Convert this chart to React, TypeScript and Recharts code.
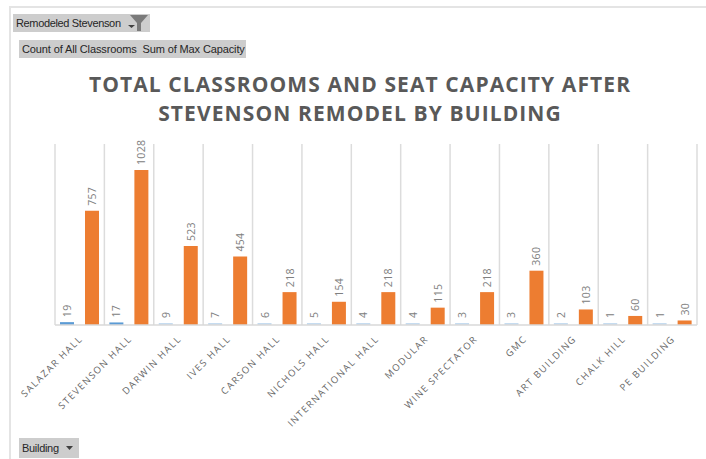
import React from 'react';
import { BarChart, Bar, XAxis, YAxis, CartesianGrid, LabelList, Cell } from 'recharts';

const buildings = ['SALAZAR HALL', 'STEVENSON HALL', 'DARWIN HALL', 'IVES HALL', 'CARSON HALL', 'NICHOLS HALL', 'INTERNATIONAL HALL', 'MODULAR', 'WINE SPECTATOR', 'GMC', 'ART BUILDING', 'CHALK HILL', 'PE BUILDING'];
const classrooms = [19, 17, 9, 7, 6, 5, 4, 4, 3, 3, 2, 1, 1];
const capacity = [757, 1028, 523, 454, 218, 154, 218, 115, 218, 360, 103, 60, 30];

const chartData = buildings.map((building, i) => ({
  building,
  classrooms: classrooms[i],
  capacity: capacity[i],
}));

const FONT = '"Open Sans", "Liberation Sans", sans-serif';
const BUTTON_FONT = '"Liberation Sans", sans-serif';

const ValueLabel = ({ x, y, width, value }: any) => {
  const cx = x + width / 2;
  const top = y - 5;
  return (
    <text
      x={cx}
      y={top}
      transform={`rotate(-90 ${cx} ${top})`}
      textAnchor="start"
      dominantBaseline="central"
      fontSize={10.5}
      letterSpacing={0.3}
      fill="#808080"
      fontFamily={FONT}
    >
      {value}
    </text>
  );
};

const BuildingTick = ({ x, y, payload }: any) => (
  <text
    x={x + 1}
    y={y + 4}
    transform={`rotate(-45 ${x + 1} ${y + 4})`}
    textAnchor="end"
    dominantBaseline="central"
    fontSize={9.5}
    letterSpacing={1.45}
    fill="#666666"
    fontFamily={FONT}
  >
    {payload.value}
  </text>
);

const PivotButton = ({ left, top, width, height, spacing = 0, children }: any) => (
  <div
    style={{
      position: 'absolute',
      left,
      top,
      width,
      height,
      lineHeight: `${height}px`,
      background: '#cdcdcd',
      fontFamily: BUTTON_FONT,
      fontSize: 11,
      letterSpacing: spacing,
      color: '#262626',
      whiteSpace: 'nowrap',
      overflow: 'hidden',
      paddingLeft: 3,
      boxSizing: 'border-box',
    }}
  >
    {children}
  </div>
);

export default function App() {
  return (
    <div style={{ position: 'absolute', left: 0, top: 0, width: 706, height: 459, background: '#fff', overflow: 'hidden' }}>
      <div style={{ position: 'absolute', left: 9, top: 6, width: 697, height: 453, borderLeft: '2px solid #e4e4e4', borderTop: '2px solid #e4e4e4', boxSizing: 'border-box' }} />

      <BarChart
        width={706}
        height={459}
        data={chartData}
        margin={{ top: 144, right: 9, bottom: 34, left: 55 }}
        barSize={14}
        barGap={11}
        style={{ position: 'absolute', left: 0, top: 0 }}
      >
        <CartesianGrid
          horizontal={false}
          stroke="#dcdcdc"
          strokeWidth={1.5}
          verticalCoordinatesGenerator={({ offset }: any) =>
            [...buildings.map((_, i) => i), buildings.length].map((i) => offset.left + (offset.width * i) / buildings.length)
          }
        />
        <XAxis
          dataKey="building"
          interval={0}
          height={100}
          tick={BuildingTick}
          tickLine={false}
          axisLine={{ stroke: '#d9d9d9', strokeWidth: 1.5 }}
        />
        <YAxis hide domain={[0, 1200]} />
        <Bar dataKey="classrooms" fill="#5b9bd5" minPointSize={2} isAnimationActive={false}>
          {classrooms.map((v, i) => (
            <Cell key={i} fill="#5b9bd5" fillOpacity={v < 10 ? 0.35 : 1} />
          ))}
          <LabelList dataKey="classrooms" content={ValueLabel} />
        </Bar>
        <Bar dataKey="capacity" fill="#ed7d31" isAnimationActive={false}>
          <LabelList dataKey="capacity" content={ValueLabel} />
        </Bar>
      </BarChart>

      <PivotButton left={13} top={14} width={137} height={18} spacing={-0.35}>
        Remodeled Stevenson
        <svg width="30" height="18" style={{ position: 'absolute', left: 114, top: 0 }}>
          <polygon points="1,11 8,11 4.5,14" fill="#404040" />
          <polygon points="3,1 21,1 14,9 14,17 10,17 10,9" fill="#7a7a7a" />
        </svg>
      </PivotButton>
      <PivotButton left={19} top={40} width={227} height={18} spacing={-0.12}>
        Count of All Classrooms&nbsp;&nbsp;Sum of Max Capacity
      </PivotButton>
      <PivotButton left={19} top={438} width={60} height={20} spacing={-0.3}>
        Building
        <svg width="12" height="20" style={{ position: 'absolute', left: 45, top: 0 }}>
          <polygon points="2,8 9,8 5.5,12" fill="#404040" />
        </svg>
      </PivotButton>

      <div
        style={{
          position: 'absolute',
          left: 12,
          top: 70,
          width: 696,
          textAlign: 'center',
          fontFamily: FONT,
          fontWeight: 700,
          fontSize: 21,
          lineHeight: '29px',
          letterSpacing: 1.1,
          color: '#595959',
        }}
      >
        TOTAL CLASSROOMS AND SEAT CAPACITY AFTER
        <br />
        STEVENSON REMODEL BY BUILDING
      </div>
    </div>
  );
}
